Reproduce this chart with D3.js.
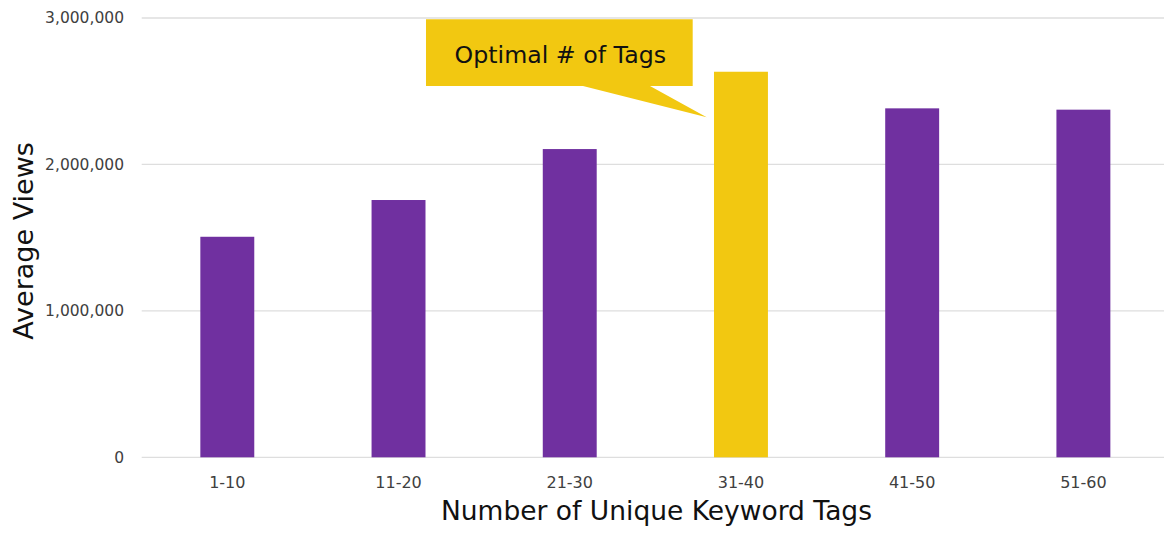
<!DOCTYPE html>
<html>
<head>
<meta charset="utf-8">
<script src="https://cdn.jsdelivr.net/npm/d3@7"></script>
<style>
  html, body { margin: 0; padding: 0; background: #fff; }
  svg { display: block; font-family: "DejaVu Sans", Verdana, sans-serif; }
</style>
</head>
<body>
<svg id="chart" width="1164" height="533"></svg>
<script>
const categories = ["1-10", "11-20", "21-30", "31-40", "41-50", "51-60"];
const averageViews = [1506000, 1757000, 2105000, 2633000, 2383000, 2374000];
const highlightCategory = "31-40";
const yTicks = [0, 1000000, 2000000, 3000000];
const calloutText = "Optimal # of Tags";
const xTitle = "Number of Unique Keyword Tags";
const yTitle = "Average Views";

const svg = d3.select("#chart");
const plot = { left: 141.7, right: 1169, top: 18, bottom: 457.3 };

const x = d3.scaleBand()
  .domain(categories)
  .range([plot.left, plot.right])
  .paddingInner(0.685)
  .paddingOuter(0.3425);

const y = d3.scaleLinear()
  .domain([0, 3000000])
  .range([plot.bottom, plot.top]);

const fmt = d3.format(",");

// gridlines
svg.append("g")
  .selectAll("line")
  .data(yTicks)
  .join("line")
  .attr("x1", plot.left)
  .attr("x2", plot.right)
  .attr("y1", d => y(d))
  .attr("y2", d => y(d))
  .attr("stroke", "#dedede")
  .attr("stroke-width", 1.3);

// y axis labels
const yAxis = d3.axisLeft(y).tickValues(yTicks).tickFormat(fmt).tickSize(0).tickPadding(0);
const yg = svg.append("g").attr("transform", `translate(124,0)`).call(yAxis);
yg.select(".domain").remove();
yg.selectAll("text")
  .attr("font-size", 15.5)
  .attr("fill", "#404040")
  .attr("font-family", "DejaVu Sans, Verdana, sans-serif");

// x axis labels
const xAxis = d3.axisBottom(x).tickSize(0).tickPadding(0);
const xg = svg.append("g").attr("transform", `translate(0,${plot.bottom})`).call(xAxis);
xg.select(".domain").remove();
xg.selectAll("text")
  .attr("font-size", 16)
  .attr("fill", "#404040")
  .attr("font-family", "DejaVu Sans, Verdana, sans-serif")
  .attr("dy", null)
  .attr("y", 30.7);

// bars
svg.append("g")
  .selectAll("rect")
  .data(categories.map((c, i) => ({ c, v: averageViews[i] })))
  .join("rect")
  .attr("x", d => x(d.c))
  .attr("width", x.bandwidth())
  .attr("y", d => y(d.v))
  .attr("height", d => y(0) - y(d.v))
  .attr("fill", d => d.c === highlightCategory ? "#F2C811" : "#7030A0");

// callout
const hx = x(highlightCategory);
const hv = averageViews[categories.indexOf(highlightCategory)];
const hy = y(hv);
const rx0 = hx - 288, rx1 = hx - 21.3, ry0 = plot.top + 1.3, ry1 = plot.top + 68;
const tipX = hx - 7.3, tipY = hy + 45.6;
const calloutPath = [
  [rx0, ry0], [rx1, ry0], [rx1, ry1], [hx - 64, ry1], [tipX, tipY], [hx - 131, ry1], [rx0, ry1]
];
svg.append("path")
  .attr("d", d3.line()(calloutPath) + "Z")
  .attr("fill", "#F2C811");
svg.append("text")
  .attr("x", (rx0 + rx1) / 2 + 1)
  .attr("y", 63.3)
  .attr("text-anchor", "middle")
  .attr("font-size", 23.7)
  .attr("fill", "#111")
  .text(calloutText);

// axis titles
svg.append("text")
  .attr("x", 656.5)
  .attr("y", 520)
  .attr("text-anchor", "middle")
  .attr("font-size", 26.5)
  .attr("fill", "#111")
  .text(xTitle);

svg.append("text")
  .attr("transform", "translate(33,241) rotate(-90)")
  .attr("text-anchor", "middle")
  .attr("font-size", 27)
  .attr("fill", "#111")
  .text(yTitle);
</script>
</body>
</html>
